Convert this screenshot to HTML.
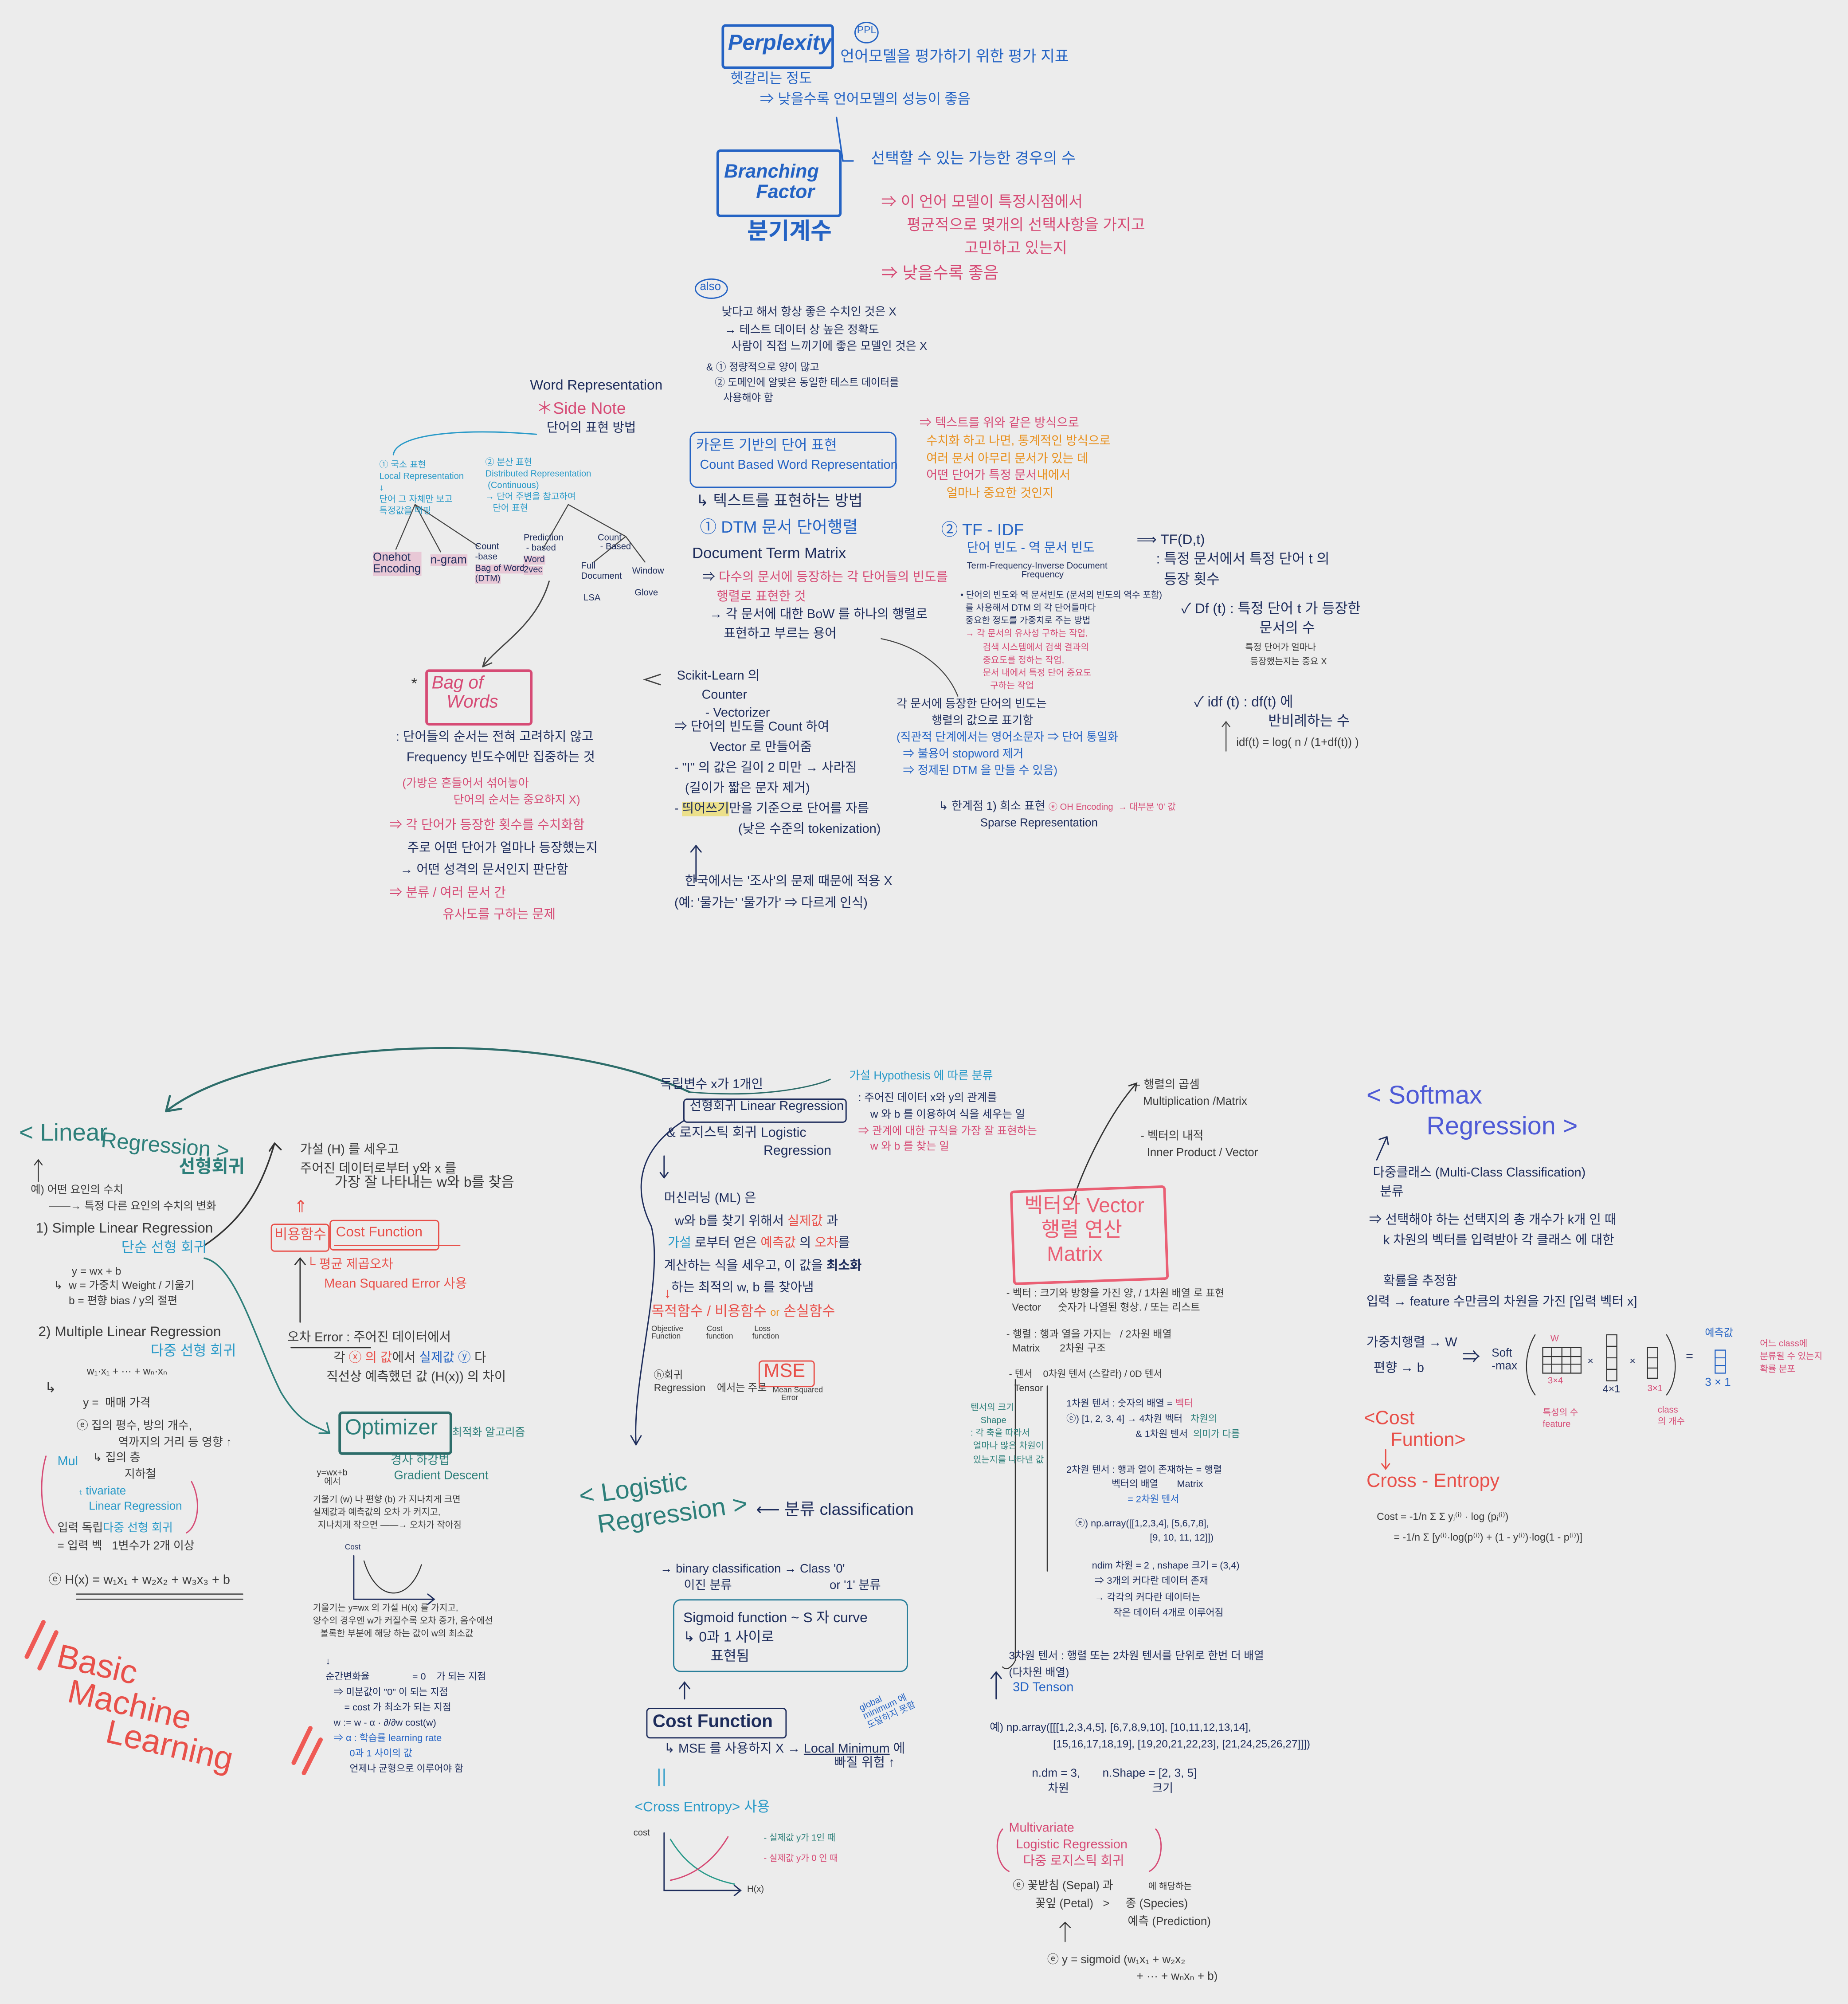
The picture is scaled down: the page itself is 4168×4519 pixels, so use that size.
<!DOCTYPE html>
<html><head><meta charset="utf-8">
<style>
html,body{margin:0;padding:0;background:#ececec;}
body{width:4168px;height:4517px;overflow:hidden;position:relative;}
#w{position:absolute;left:0;top:0;width:1447px;height:1569px;transform:scale(2.8804);transform-origin:0 0;}
.t{position:absolute;white-space:nowrap;line-height:1.05;font-family:"Liberation Sans","Noto Sans CJK KR",sans-serif;}
.bx{position:absolute;border-style:solid;border-radius:3px;}
.B{color:#2463c4}.N{color:#1e2d5c}.P{color:#d64b75}.R{color:#e8504a}.T{color:#2d7f7a}.C{color:#2a9ac8}.G{color:#3a3a3a}.V{color:#4e5ad6}.O{color:#e8901e}
svg{position:absolute;left:0;top:0}
</style></head><body><div id="w">
<svg width="1447" height="1569" viewBox="0 0 1447 1569" fill="none" stroke-linecap="round">
<path d="M655 92 L660 126 L668 126" stroke="#2463c4" stroke-width="1.2"/>
<path d="M420 340 C360 335 310 340 308 356" stroke="#2a9ac8" stroke-width="1"/>
<path d="M325 395 L310 430 M325 395 L345 432 M325 395 L375 428 M445 395 L425 430 M445 395 L490 420 M490 420 L465 440 M490 420 L505 440" stroke="#444" stroke-width="0.8"/>
<path d="M430 455 C420 490 390 505 378 522" stroke="#444" stroke-width="1"/>
<path d="M378 522 l2 -7 M378 522 l7 -3" stroke="#444" stroke-width="1"/>
<path d="M517 528 L505 532 L517 536" stroke="#444" stroke-width="1"/>
<path d="M750 545 C740 520 715 505 690 500" stroke="#444" stroke-width="0.8"/>
<path d="M545 690 L545 662 M541 667 L545 662 L549 667" stroke="#1e2d5c" stroke-width="1"/>
<path d="M960 588 L960 565 M957 569 L960 565 L963 569" stroke="#444" stroke-width="0.8"/>
<path d="M540 855 C420 800 200 815 130 870 M130 870 l3 -12 M130 870 l12 -2" stroke="#2d6d6a" stroke-width="1.6"/>
<path d="M540 855 C600 860 640 850 650 845" stroke="#2d6d6a" stroke-width="1"/>
<path d="M160 975 C190 955 205 930 215 895 M215 895 l-4 6 M215 895 l5 5" stroke="#333" stroke-width="1.2"/>
<path d="M160 985 C185 990 200 1050 220 1090 C235 1115 245 1115 258 1122 M258 1122 l-8 0 M258 1122 l-2 -8" stroke="#2d7f7a" stroke-width="1.2"/>
<path d="M235 1035 L235 985 M231 990 L235 985 L239 990" stroke="#333" stroke-width="1"/>
<path d="M228 1055 L290 1055" stroke="#333" stroke-width="1"/>
<path d="M536 877 C500 900 495 930 510 960 C520 1000 495 1080 498 1130 M494 1124 L498 1131 L502 1124" stroke="#1e2d5c" stroke-width="1"/>
<path d="M520 905 L520 922 M517 918 L520 922 L523 918" stroke="#1e2d5c" stroke-width="1"/>
<path d="M840 940 C850 910 870 870 890 848 M884 850 L890 848 L889 854" stroke="#333" stroke-width="1"/>
<path d="M795 1080 L795 1300 C795 1300 790 1310 785 1305" stroke="#333" stroke-width="0.8"/>
<path d="M820 1085 L820 1230" stroke="#333" stroke-width="0.8"/>
<path d="M536 1330 L536 1318 M532 1322 L536 1317 L540 1322" stroke="#1e2d5c" stroke-width="1"/>
<path d="M516 1385 L516 1398 M520 1385 L520 1398" stroke="#2a9ac8" stroke-width="1"/>
<path d="M277 1218 L277 1252 L340 1252 M335 1248 L340 1252 L335 1256" stroke="#1e2d5c" stroke-width="1"/>
<path d="M285 1222 C295 1255 320 1255 330 1225" stroke="#333" stroke-width="0.8"/>
<path d="M520 1435 L520 1480 L580 1480 M575 1476 L580 1480 L575 1484" stroke="#1e2d5c" stroke-width="1"/>
<path d="M525 1440 C540 1465 560 1472 575 1475" stroke="#2a9a8a" stroke-width="1"/>
<path d="M525 1472 C545 1468 560 1455 570 1438" stroke="#d64b75" stroke-width="1"/>
<path d="M1208 1055 h30 v20 h-30 z M1208 1062 h30 M1208 1068 h30 M1215 1055 v20 M1223 1055 v20 M1230 1055 v20" stroke="#333" stroke-width="0.8"/>
<path d="M1258 1045 h8 v36 h-8 z M1258 1054 h8 M1258 1063 h8 M1258 1072 h8" stroke="#333" stroke-width="0.8"/>
<path d="M1290 1055 h8 v24 h-8 z M1290 1063 h8 M1290 1071 h8" stroke="#333" stroke-width="0.8"/>
<path d="M1343 1057 h8 v18 h-8 z M1343 1063 h8 M1343 1069 h8" stroke="#2463c4" stroke-width="0.8"/>
<path d="M1202 1045 C1193 1060 1193 1080 1202 1092 M1305 1045 C1314 1060 1314 1080 1305 1092" stroke="#333" stroke-width="0.8"/>
<path d="M1078 908 L1086 890 M1080 892 L1086 890 L1087 896" stroke="#1e2d5c" stroke-width="1"/>
<path d="M1085 1135 L1085 1150 M1082 1146 L1085 1150 L1088 1146" stroke="#e8504a" stroke-width="1"/>
<path d="M785 1432 C778 1440 780 1460 790 1465 M905 1432 C912 1440 910 1460 900 1465" stroke="#d64b75" stroke-width="1"/>
<path d="M36 1140 C30 1160 32 1190 42 1200 M150 1160 C158 1175 155 1195 146 1200" stroke="#d64b75" stroke-width="1"/>
<path d="M834 1505 L834 1520 M830 1509 L834 1505 L838 1509" stroke="#333" stroke-width="0.8"/>
<path d="M780 1330 L780 1310 M776 1314 L780 1309 L784 1314" stroke="#1e2d5c" stroke-width="1"/>
<path d="M30 908 L30 925 M27 912 L30 908 L33 912" stroke="#333" stroke-width="0.8"/>
<path d="M21 1297 L34 1270 M31 1306 L44 1278 M230 1380 L243 1353 M238 1388 L251 1362" stroke="#ef5a55" stroke-width="3.5"/>
<path d="M60 1248 L190 1248 M60 1252 L190 1252" stroke="#555" stroke-width="1"/>
<path d="M262 975 L360 975" stroke="#e8504a" stroke-width="1"/>
</svg>

<div class="bx" style="left:565px;top:19px;width:84px;height:31px;border-width:2px;border-color:#2463c4"></div>
<div class="t B" style="left:570px;top:25px;font-size:17px;font-weight:bold;font-style:italic">Perplexity</div>
<div class="bx" style="left:669px;top:17px;width:17px;height:15px;border-width:1px;border-color:#2463c4;border-radius:50%"></div>
<div class="t B" style="left:671px;top:20px;font-size:8px">PPL</div>
<div class="t B" style="left:658px;top:38px;font-size:12px">언어모델을 평가하기 위한 평가 지표</div>
<div class="t B" style="left:572px;top:57px;font-size:11px">헷갈리는 정도</div>
<div class="t B" style="left:595px;top:73px;font-size:11px">⇒ 낮을수록 언어모델의 성능이 좋음</div>
<div class="bx" style="left:561px;top:117px;width:94px;height:49px;border-width:2px;border-color:#2463c4"></div>
<div class="t B" style="left:567px;top:127px;font-size:15px;font-weight:bold;font-style:italic">Branching<br>&nbsp;&nbsp;&nbsp;&nbsp;&nbsp;&nbsp;Factor</div>
<div class="t B" style="left:585px;top:172px;font-size:18px;font-weight:bold">분기계수</div>
<div class="t B" style="left:682px;top:118px;font-size:12px">선택할 수 있는 가능한 경우의 수</div>
<div class="t P" style="left:690px;top:152px;font-size:12px">⇒ 이 언어 모델이 특정시점에서</div>
<div class="t P" style="left:710px;top:170px;font-size:12px">평균적으로 몇개의 선택사항을 가지고</div>
<div class="t P" style="left:755px;top:188px;font-size:12px">고민하고 있는지</div>
<div class="t P" style="left:690px;top:207px;font-size:13px">⇒ 낮을수록 좋음</div>
<div class="bx" style="left:544px;top:218px;width:24px;height:14px;border-width:1px;border-color:#2463c4;border-radius:50%"></div>
<div class="t B" style="left:548px;top:220px;font-size:9px">also</div>
<div class="t N" style="left:565px;top:238px;font-size:9px;line-height:1.5">낮다고 해서 항상 좋은 수치인 것은 X<br>&nbsp;→ 테스트 데이터 상 높은 정확도<br>&nbsp;&nbsp;&nbsp;사람이 직접 느끼기에 좋은 모델인 것은 X</div>
<div class="t N" style="left:553px;top:282px;font-size:8px;line-height:1.5">&amp; ① 정량적으로 양이 많고<br>&nbsp;&nbsp;&nbsp;② 도메인에 알맞은 동일한 테스트 데이터를<br>&nbsp;&nbsp;&nbsp;&nbsp;&nbsp;&nbsp;사용해야 함</div>

<div class="t N" style="left:415px;top:297px;font-size:11px">Word Representation</div>
<div class="t P" style="left:420px;top:313px;font-size:13px">＊Side Note</div>
<div class="t N" style="left:428px;top:331px;font-size:10px">단어의 표현 방법</div>
<div class="t C" style="left:297px;top:360px;font-size:7px;line-height:1.3">① 국소 표현<br>Local Representation<br>↓<br>단어 그 자체만 보고<br>특정값을 매핑</div>
<div class="t C" style="left:380px;top:358px;font-size:7px;line-height:1.3">② 분산 표현<br>Distributed Representation<br>&nbsp;(Continuous)<br>→ 단어 주변을 참고하여<br>&nbsp;&nbsp;&nbsp;단어 표현</div>
<div class="t N" style="left:292px;top:432px;font-size:9px;background:#e8c8d6">Onehot<br>Encoding</div>
<div class="t N" style="left:337px;top:434px;font-size:9px;background:#e8c8d6">n-gram</div>
<div class="t N" style="left:372px;top:425px;font-size:7px;line-height:1.2">Count<br>-base<br><span style="background:#e8c8d6">Bag of Words<br>(DTM)</span></div>
<div class="t N" style="left:410px;top:418px;font-size:7px;line-height:1.2">Prediction<br>&nbsp;- based<br><span style="background:#e8c8d6">Word<br>2vec</span></div>
<div class="t N" style="left:455px;top:440px;font-size:7px;line-height:1.2">Full<br>Document<br><br>&nbsp;LSA</div>
<div class="t N" style="left:468px;top:418px;font-size:7px">Count<br>&nbsp;- Based</div>
<div class="t N" style="left:495px;top:444px;font-size:7px;line-height:1.2">Window<br><br>&nbsp;Glove</div>

<div class="bx" style="left:540px;top:338px;width:160px;height:42px;border-width:1.5px;border-color:#2463c4;border-radius:6px"></div>
<div class="t B" style="left:545px;top:344px;font-size:11px">카운트 기반의 단어 표현</div>
<div class="t B" style="left:548px;top:360px;font-size:10px">Count Based Word Representation</div>
<div class="t N" style="left:545px;top:386px;font-size:12px">↳ 텍스트를 표현하는 방법</div>
<div class="t B" style="left:548px;top:406px;font-size:13px">① DTM 문서 단어행렬</div>
<div class="t N" style="left:542px;top:427px;font-size:12px">Document Term Matrix</div>
<div class="t N" style="left:550px;top:446px;font-size:10px;line-height:1.45">⇒ <span class="P">다수의 문서에 등장하는 각 단어들의 빈도를<br>&nbsp;&nbsp;&nbsp;&nbsp;행렬로 표현한 것</span><br>&nbsp;&nbsp;→ 각 문서에 대한 BoW 를 하나의 행렬로<br>&nbsp;&nbsp;&nbsp;&nbsp;&nbsp;&nbsp;표현하고 부르는 용어</div>

<div class="t O" style="left:720px;top:325px;font-size:9.5px;line-height:1.45"><span class="P">⇒ 텍스트를 위와 같은 방식으로</span><br>&nbsp;&nbsp;수치화 하고 나면, 통계적인 방식으로<br>&nbsp;&nbsp;여러 문서 아무리 문서가 있는 데<br>&nbsp;&nbsp;<span class="P">어떤 단어가 특정 문서</span>내에서<br>&nbsp;&nbsp;&nbsp;&nbsp;&nbsp;&nbsp;&nbsp;&nbsp;얼마나 중요한 것인지</div>
<div class="t B" style="left:737px;top:408px;font-size:13px">② TF - IDF</div>
<div class="t B" style="left:757px;top:425px;font-size:10px">단어 빈도 - 역 문서 빈도</div>
<div class="t N" style="left:757px;top:440px;font-size:7px">Term-Frequency-Inverse Document<br>&nbsp;&nbsp;&nbsp;&nbsp;&nbsp;&nbsp;&nbsp;&nbsp;&nbsp;&nbsp;&nbsp;&nbsp;&nbsp;&nbsp;&nbsp;&nbsp;&nbsp;&nbsp;&nbsp;&nbsp;&nbsp;&nbsp;Frequency</div>
<div class="t N" style="left:752px;top:462px;font-size:7px;line-height:1.45">• 단어의 빈도와 역 문서빈도 (문서의 빈도의 역수 포함)<br>&nbsp;&nbsp;를 사용해서 DTM 의 각 단어들마다<br>&nbsp;&nbsp;중요한 정도를 가중치로 주는 방법<br>&nbsp;&nbsp;<span class="P">→ 각 문서의 유사성 구하는 작업,<br>&nbsp;&nbsp;&nbsp;&nbsp;&nbsp;&nbsp;&nbsp;&nbsp;&nbsp;검색 시스템에서 검색 결과의<br>&nbsp;&nbsp;&nbsp;&nbsp;&nbsp;&nbsp;&nbsp;&nbsp;&nbsp;중요도를 정하는 작업,<br>&nbsp;&nbsp;&nbsp;&nbsp;&nbsp;&nbsp;&nbsp;&nbsp;&nbsp;문서 내에서 특정 단어 중요도<br>&nbsp;&nbsp;&nbsp;&nbsp;&nbsp;&nbsp;&nbsp;&nbsp;&nbsp;&nbsp;&nbsp;&nbsp;구하는 작업</span></div>
<div class="t N" style="left:890px;top:416px;font-size:11px;line-height:1.4">⟹ TF(D,t)<br>&nbsp;&nbsp;&nbsp;&nbsp;&nbsp;: 특정 문서에서 특정 단어 t 의<br>&nbsp;&nbsp;&nbsp;&nbsp;&nbsp;&nbsp;&nbsp;등장 횟수</div>
<div class="t N" style="left:925px;top:470px;font-size:11px;line-height:1.4">✓ Df (t) : 특정 단어 t 가 등장한<br>&nbsp;&nbsp;&nbsp;&nbsp;&nbsp;&nbsp;&nbsp;&nbsp;&nbsp;&nbsp;&nbsp;&nbsp;&nbsp;&nbsp;&nbsp;&nbsp;&nbsp;&nbsp;&nbsp;&nbsp;문서의 수</div>
<div class="t G" style="left:975px;top:503px;font-size:7px;line-height:1.5">특정 단어가 얼마나<br>&nbsp;&nbsp;등장했는지는 중요 X</div>
<div class="t N" style="left:935px;top:543px;font-size:11px;line-height:1.4">✓ idf (t) : df(t) 에<br>&nbsp;&nbsp;&nbsp;&nbsp;&nbsp;&nbsp;&nbsp;&nbsp;&nbsp;&nbsp;&nbsp;&nbsp;&nbsp;&nbsp;&nbsp;&nbsp;&nbsp;&nbsp;&nbsp;반비례하는 수</div>
<div class="t G" style="left:968px;top:577px;font-size:9px">idf(t) = log( n / (1+df(t)) )</div>

<div class="bx" style="left:333px;top:524px;width:80px;height:40px;border-width:2px;border-color:#d64b75"></div>
<div class="t P" style="left:338px;top:527px;font-size:14px;font-style:italic;line-height:1.1">Bag of<br>&nbsp;&nbsp;&nbsp;Words</div>
<div class="t G" style="left:322px;top:529px;font-size:12px">*</div>
<div class="t N" style="left:310px;top:570px;font-size:10px;line-height:1.55">: 단어들의 순서는 전혀 고려하지 않고<br>&nbsp;&nbsp;&nbsp;Frequency 빈도수에만 집중하는 것</div>
<div class="t P" style="left:315px;top:607px;font-size:9px;line-height:1.4">(가방은 흔들어서 섞어놓아<br>&nbsp;&nbsp;&nbsp;&nbsp;&nbsp;&nbsp;&nbsp;&nbsp;&nbsp;&nbsp;&nbsp;&nbsp;&nbsp;&nbsp;&nbsp;&nbsp;단어의 순서는 중요하지 X)</div>
<div class="t N" style="left:305px;top:638px;font-size:10px;line-height:1.75"><span class="P">⇒ 각 단어가 등장한 횟수를 수치화함</span><br>&nbsp;&nbsp;&nbsp;&nbsp;&nbsp;주로 어떤 단어가 얼마나 등장했는지<br>&nbsp;&nbsp;&nbsp;→ 어떤 성격의 문서인지 판단함<br><span class="P">⇒ 분류 / 여러 문서 간<br>&nbsp;&nbsp;&nbsp;&nbsp;&nbsp;&nbsp;&nbsp;&nbsp;&nbsp;&nbsp;&nbsp;&nbsp;&nbsp;&nbsp;&nbsp;유사도를 구하는 문제</span></div>

<div class="t N" style="left:530px;top:523px;font-size:10px;line-height:1.45">Scikit-Learn 의<br>&nbsp;&nbsp;&nbsp;&nbsp;&nbsp;&nbsp;&nbsp;Counter<br>&nbsp;&nbsp;&nbsp;&nbsp;&nbsp;&nbsp;&nbsp;&nbsp;- Vectorizer</div>
<div class="t N" style="left:528px;top:562px;font-size:10px;line-height:1.6">⇒ 단어의 빈도를 Count 하여<br>&nbsp;&nbsp;&nbsp;&nbsp;&nbsp;&nbsp;&nbsp;&nbsp;&nbsp;&nbsp;Vector 로 만들어줌<br>- "I" 의 값은 길이 2 미만 → 사라짐<br>&nbsp;&nbsp;&nbsp;(길이가 짧은 문자 제거)<br>- <span style="background:#ece08a">띄어쓰기</span>만을 기준으로 단어를 자름<br>&nbsp;&nbsp;&nbsp;&nbsp;&nbsp;&nbsp;&nbsp;&nbsp;&nbsp;&nbsp;&nbsp;&nbsp;&nbsp;&nbsp;&nbsp;&nbsp;&nbsp;&nbsp;(낮은 수준의 tokenization)</div>
<div class="t N" style="left:528px;top:682px;font-size:10px;line-height:1.7">&nbsp;&nbsp;&nbsp;한국에서는 '조사'의 문제 때문에 적용 X<br>(예: '물가는' '물가가' ⇒ 다르게 인식)</div>
<div class="t N" style="left:702px;top:545px;font-size:9px;line-height:1.45">각 문서에 등장한 단어의 빈도는<br>&nbsp;&nbsp;&nbsp;&nbsp;&nbsp;&nbsp;&nbsp;&nbsp;&nbsp;&nbsp;&nbsp;행렬의 값으로 표기함<br><span class="B">(직관적 단계에서는 영어소문자 ⇒ 단어 통일화<br>&nbsp;&nbsp;⇒ 불용어 stopword 제거<br>&nbsp;&nbsp;⇒ 정제된 DTM 을 만들 수 있음)</span></div>
<div class="t N" style="left:735px;top:625px;font-size:9px;line-height:1.4">↳ 한계점 1) 희소 표현 <span class="P" style="font-size:7px">ⓔ OH Encoding &nbsp;→ 대부분 '0' 값</span><br>&nbsp;&nbsp;&nbsp;&nbsp;&nbsp;&nbsp;&nbsp;&nbsp;&nbsp;&nbsp;&nbsp;&nbsp;&nbsp;Sparse Representation</div>

<!-- BOTTOM LEFT -->
<div class="t T" style="left:15px;top:878px;font-size:19px">&lt; Linear</div>
<div class="t T" style="left:80px;top:884px;font-size:17px;transform:rotate(5deg);transform-origin:0 0">Regression &gt;</div>
<div class="t T" style="left:140px;top:906px;font-size:14px;font-weight:bold">선형회귀</div>
<div class="t G" style="left:24px;top:925px;font-size:8.5px;line-height:1.5">예) 어떤 요인의 수치<br>&nbsp;&nbsp;&nbsp;&nbsp;&nbsp;&nbsp;——→ 특정 다른 요인의 수치의 변화</div>
<div class="t G" style="left:28px;top:957px;font-size:11px">1) Simple Linear Regression</div>
<div class="t C" style="left:95px;top:972px;font-size:11px">단순 선형 회귀</div>
<div class="t G" style="left:42px;top:990px;font-size:8.5px;line-height:1.35">&nbsp;&nbsp;&nbsp;&nbsp;&nbsp;&nbsp;y = wx + b<br>↳ &nbsp;w = 가중치 Weight / 기울기<br>&nbsp;&nbsp;&nbsp;&nbsp;&nbsp;b = 편향 bias / y의 절편</div>
<div class="t G" style="left:30px;top:1038px;font-size:11px">2) Multiple Linear Regression</div>
<div class="t C" style="left:118px;top:1053px;font-size:11px">다중 선형 회귀</div>
<div class="t G" style="left:68px;top:1070px;font-size:8px">w₁·x₁ + ··· + wₙ·xₙ</div>
<div class="t G" style="left:35px;top:1082px;font-size:11px">↳</div>
<div class="t G" style="left:65px;top:1092px;font-size:9px;line-height:1.5">y = &nbsp;매매 가격</div>
<div class="t G" style="left:60px;top:1110px;font-size:9px;line-height:1.4">ⓔ 집의 평수, 방의 개수,<br>&nbsp;&nbsp;&nbsp;&nbsp;&nbsp;&nbsp;&nbsp;&nbsp;&nbsp;&nbsp;&nbsp;&nbsp;&nbsp;역까지의 거리 등 영향 ↑<br>&nbsp;&nbsp;&nbsp;&nbsp;&nbsp;↳ 집의 층<br>&nbsp;&nbsp;&nbsp;&nbsp;&nbsp;&nbsp;&nbsp;&nbsp;&nbsp;&nbsp;&nbsp;&nbsp;&nbsp;&nbsp;&nbsp;지하철</div>
<div class="t C" style="left:45px;top:1140px;font-size:10px">Mul</div>
<div class="t C" style="left:62px;top:1162px;font-size:9px;line-height:1.3">ₜ tivariate<br>&nbsp;&nbsp;&nbsp;Linear Regression</div>
<div class="t G" style="left:45px;top:1190px;font-size:9px;line-height:1.55">입력 독립<span class="C">다중 선형 회귀</span><br>= 입력 벡 &nbsp;&nbsp;1변수가 2개 이상</div>
<div class="t G" style="left:38px;top:1233px;font-size:10px">ⓔ H(x) = w₁x₁ + w₂x₂ + w₃x₃ + b</div>
<div class="t R" style="left:48px;top:1284px;font-size:26px;transform:rotate(13deg);transform-origin:0 0;line-height:0.95">Basic<br>&nbsp;&nbsp;Machine<br>&nbsp;&nbsp;&nbsp;&nbsp;&nbsp;&nbsp;&nbsp;Learning</div>

<div class="t G" style="left:235px;top:893px;font-size:10px;line-height:1.5">가설 (H) 를 세우고<br>주어진 데이터로부터 y와 x 를</div>
<div class="t G" style="left:262px;top:921px;font-size:11px">가장 잘 나타내는 w와 b를 찾음</div>
<div class="t R" style="left:230px;top:938px;font-size:13px">⇑</div>
<div class="bx" style="left:212px;top:958px;width:44px;height:20px;border-width:1.3px;border-color:#e8504a"></div>
<div class="t R" style="left:215px;top:962px;font-size:11px">비용함수</div>
<div class="bx" style="left:258px;top:955px;width:84px;height:22px;border-width:1.3px;border-color:#e8504a"></div>
<div class="t R" style="left:263px;top:960px;font-size:11px">Cost Function</div>
<div class="t R" style="left:240px;top:983px;font-size:10px;line-height:1.5">└ 평균 제곱오차<br>&nbsp;&nbsp;&nbsp;&nbsp;&nbsp;Mean Squared Error 사용</div>
<div class="t G" style="left:225px;top:1040px;font-size:10px;line-height:1.55">오차 Error : 주어진 데이터에서<br>&nbsp;&nbsp;&nbsp;&nbsp;&nbsp;&nbsp;&nbsp;&nbsp;&nbsp;&nbsp;&nbsp;&nbsp;&nbsp;각 <span class="R">ⓧ 의 값</span>에서 <span class="B">실제값 ⓨ</span> 다<br>&nbsp;&nbsp;&nbsp;&nbsp;&nbsp;&nbsp;&nbsp;&nbsp;&nbsp;&nbsp;&nbsp;직선상 예측했던 값 (H(x)) 의 차이</div>
<div class="bx" style="left:265px;top:1105px;width:85px;height:30px;border-width:2px;border-color:#2d6d6a"></div>
<div class="t T" style="left:270px;top:1109px;font-size:17px">Optimizer</div>
<div class="t T" style="left:354px;top:1117px;font-size:8.5px">최적화 알고리즘</div>
<div class="t T" style="left:290px;top:1138px;font-size:9.5px;line-height:1.3">&nbsp;&nbsp;&nbsp;&nbsp;&nbsp;&nbsp;경사 하강법<br>&nbsp;&nbsp;&nbsp;&nbsp;&nbsp;&nbsp;&nbsp;Gradient Descent</div>
<div class="t G" style="left:248px;top:1150px;font-size:7px">y=wx+b<br>&nbsp;&nbsp;&nbsp;에서</div>
<div class="t G" style="left:245px;top:1170px;font-size:7px;line-height:1.45">기울기 (w) 나 편향 (b) 가 지나치게 크면<br>실제값과 예측값의 오차 가 커지고,<br>&nbsp;&nbsp;지나치게 작으면 ——→ 오차가 작아짐</div>
<div class="t N" style="left:270px;top:1209px;font-size:6px">Cost</div>
<div class="t G" style="left:245px;top:1255px;font-size:7px;line-height:1.45">기울기는 y=wx 의 가설 H(x) 를 가지고,<br>양수의 경우엔 w가 커질수록 오차 증가, 음수에선<br>&nbsp;&nbsp;&nbsp;볼록한 부분에 해당 하는 값이 w의 최소값</div>
<div class="t N" style="left:255px;top:1295px;font-size:7.5px;line-height:1.6">↓<br>순간변화율 &nbsp;&nbsp;&nbsp;&nbsp;&nbsp;&nbsp;&nbsp;&nbsp;&nbsp;&nbsp;&nbsp;&nbsp;&nbsp;&nbsp;&nbsp;= 0 &nbsp;&nbsp;&nbsp;가 되는 지점<br>&nbsp;&nbsp;&nbsp;⇒ 미분값이 "0" 이 되는 지점<br>&nbsp;&nbsp;&nbsp;&nbsp;&nbsp;&nbsp;&nbsp;= cost 가 최소가 되는 지점<br>&nbsp;&nbsp;&nbsp;w := w - α · ∂/∂w cost(w)<br><span class="B">&nbsp;&nbsp;&nbsp;⇒ α : 학습률 learning rate<br>&nbsp;&nbsp;&nbsp;&nbsp;&nbsp;&nbsp;&nbsp;&nbsp;&nbsp;0과 1 사이의 값</span><br>&nbsp;&nbsp;&nbsp;&nbsp;&nbsp;&nbsp;&nbsp;&nbsp;&nbsp;언제나 균형으로 이루어야 함</div>

<!-- BOTTOM CENTER -->
<div class="t N" style="left:517px;top:845px;font-size:10px">독립변수 x가 1개인</div>
<div class="bx" style="left:535px;top:860px;width:126px;height:17px;border-width:1.2px;border-color:#1e2d5c"></div>
<div class="t N" style="left:540px;top:862px;font-size:10px">선형회귀 Linear Regression</div>
<div class="t N" style="left:522px;top:880px;font-size:10.5px;line-height:1.35">&amp; 로지스틱 회귀 Logistic<br>&nbsp;&nbsp;&nbsp;&nbsp;&nbsp;&nbsp;&nbsp;&nbsp;&nbsp;&nbsp;&nbsp;&nbsp;&nbsp;&nbsp;&nbsp;&nbsp;&nbsp;&nbsp;&nbsp;&nbsp;&nbsp;&nbsp;&nbsp;&nbsp;&nbsp;&nbsp;Regression</div>
<div class="t C" style="left:665px;top:838px;font-size:9px">가설 Hypothesis 에 따른 분류</div>
<div class="t N" style="left:672px;top:853px;font-size:8.5px;line-height:1.5">: 주어진 데이터 x와 y의 관계를<br>&nbsp;&nbsp;&nbsp;&nbsp;w 와 b 를 이용하여 식을 세우는 일<br><span class="P">⇒ 관계에 대한 규칙을 가장 잘 표현하는<br>&nbsp;&nbsp;&nbsp;&nbsp;w 와 b 를 찾는 일</span></div>
<div class="t N" style="left:520px;top:930px;font-size:10px;line-height:1.75">머신러닝 (ML) 은<br>&nbsp;&nbsp;&nbsp;w와 b를 찾기 위해서 <span class="R">실제값</span> 과<br>&nbsp;<span class="C">가설</span> 로부터 얻은 <span class="R">예측값</span> 의 <span class="R">오차</span>를<br>계산하는 식을 세우고, 이 값을 <b>최소화</b><br>&nbsp;&nbsp;하는 최적의 w, b 를 찾아냄</div>
<div class="t R" style="left:520px;top:1008px;font-size:11px">↓</div>
<div class="t R" style="left:510px;top:1022px;font-size:11px">목적함수 / 비용함수 <span class="O" style="font-size:8px">or</span> 손실함수</div>
<div class="t G" style="left:510px;top:1038px;font-size:6px">Objective &nbsp;&nbsp;&nbsp;&nbsp;&nbsp;&nbsp;&nbsp;&nbsp;&nbsp;&nbsp;Cost &nbsp;&nbsp;&nbsp;&nbsp;&nbsp;&nbsp;&nbsp;&nbsp;&nbsp;&nbsp;&nbsp;&nbsp;&nbsp;&nbsp;Loss<br>Function &nbsp;&nbsp;&nbsp;&nbsp;&nbsp;&nbsp;&nbsp;&nbsp;&nbsp;&nbsp;&nbsp;function &nbsp;&nbsp;&nbsp;&nbsp;&nbsp;&nbsp;&nbsp;&nbsp;function</div>
<div class="t G" style="left:512px;top:1072px;font-size:8px;line-height:1.3">ⓗ회귀<br>Regression &nbsp;&nbsp;&nbsp;에서는 주로</div>
<div class="bx" style="left:594px;top:1065px;width:42px;height:19px;border-width:1.2px;border-color:#e8504a"></div>
<div class="t R" style="left:598px;top:1066px;font-size:15px">MSE</div>
<div class="t G" style="left:605px;top:1086px;font-size:6px">Mean Squared<br>&nbsp;&nbsp;&nbsp;&nbsp;Error</div>
<div class="t T" style="left:452px;top:1160px;font-size:20px;transform:rotate(-8deg);transform-origin:0 0;line-height:1.2">&lt; Logistic<br>&nbsp;&nbsp;Regression &gt;</div>
<div class="t N" style="left:592px;top:1175px;font-size:13px">⟵ 분류 classification</div>
<div class="t N" style="left:517px;top:1222px;font-size:9.5px;line-height:1.4">→ binary classification → Class '0'<br>&nbsp;&nbsp;&nbsp;&nbsp;&nbsp;&nbsp;&nbsp;이진 분류 &nbsp;&nbsp;&nbsp;&nbsp;&nbsp;&nbsp;&nbsp;&nbsp;&nbsp;&nbsp;&nbsp;&nbsp;&nbsp;&nbsp;&nbsp;&nbsp;&nbsp;&nbsp;&nbsp;&nbsp;&nbsp;&nbsp;&nbsp;&nbsp;&nbsp;&nbsp;&nbsp;&nbsp;or '1' 분류</div>
<div class="bx" style="left:527px;top:1252px;width:182px;height:55px;border-width:1.3px;border-color:#2a7f9a;border-radius:6px"></div>
<div class="t N" style="left:535px;top:1260px;font-size:11px;line-height:1.35">Sigmoid function ~ S 자 curve<br>↳ 0과 1 사이로<br>&nbsp;&nbsp;&nbsp;&nbsp;&nbsp;&nbsp;&nbsp;표현됨</div>
<div class="bx" style="left:506px;top:1337px;width:108px;height:22px;border-width:1.8px;border-color:#1e2d5c"></div>
<div class="t N" style="left:511px;top:1340px;font-size:14px;font-weight:bold">Cost Function</div>
<div class="t N" style="left:520px;top:1365px;font-size:10px">↳ MSE 를 사용하지 X → <u>Local Minimum</u> 에<br>&nbsp;&nbsp;&nbsp;&nbsp;&nbsp;&nbsp;&nbsp;&nbsp;&nbsp;&nbsp;&nbsp;&nbsp;&nbsp;&nbsp;&nbsp;&nbsp;&nbsp;&nbsp;&nbsp;&nbsp;&nbsp;&nbsp;&nbsp;&nbsp;&nbsp;&nbsp;&nbsp;&nbsp;&nbsp;&nbsp;&nbsp;&nbsp;&nbsp;&nbsp;&nbsp;&nbsp;&nbsp;&nbsp;&nbsp;&nbsp;&nbsp;&nbsp;&nbsp;&nbsp;&nbsp;&nbsp;&nbsp;&nbsp;빠질 위험 ↑</div>
<div class="t B" style="left:672px;top:1335px;font-size:7px;transform:rotate(-25deg);transform-origin:0 0">global<br>minimum 에<br>도달하지 못함</div>
<div class="t C" style="left:497px;top:1410px;font-size:11px">&lt;Cross Entropy&gt; 사용</div>
<div class="t G" style="left:496px;top:1432px;font-size:7px">cost</div>
<div class="t T" style="left:598px;top:1436px;font-size:7px">- 실제값 y가 1인 때</div>
<div class="t P" style="left:598px;top:1452px;font-size:7px">- 실제값 y가 0 인 때</div>
<div class="t G" style="left:585px;top:1476px;font-size:7px">H(x)</div>

<!-- CENTER RIGHT -->
<div class="t G" style="left:890px;top:843px;font-size:9px;line-height:1.4">- 행렬의 곱셈<br>&nbsp;&nbsp;Multiplication /Matrix</div>
<div class="t G" style="left:893px;top:883px;font-size:9px;line-height:1.4">- 벡터의 내적<br>&nbsp;&nbsp;Inner Product / Vector</div>
<div class="bx" style="left:792px;top:930px;width:118px;height:70px;border-width:2px;border-color:#ea5f74;transform:rotate(-2deg)"></div>
<div class="t P" style="left:802px;top:935px;font-size:16px;line-height:1.2;color:#ea5f74">벡터와 Vector<br>&nbsp;&nbsp;&nbsp;행렬 연산<br>&nbsp;&nbsp;&nbsp;&nbsp;Matrix</div>
<div class="t G" style="left:788px;top:1008px;font-size:8px;line-height:1.35">- 벡터 : 크기와 방향을 가진 양, / 1차원 배열 로 표현<br>&nbsp;&nbsp;Vector &nbsp;&nbsp;&nbsp;&nbsp;&nbsp;숫자가 나열된 형상. / 또는 리스트</div>
<div class="t G" style="left:788px;top:1040px;font-size:8px;line-height:1.35">- 행렬 : 행과 열을 가지는 &nbsp;&nbsp;/ 2차원 배열<br>&nbsp;&nbsp;Matrix &nbsp;&nbsp;&nbsp;&nbsp;&nbsp;&nbsp;2차원 구조</div>
<div class="t G" style="left:790px;top:1070px;font-size:7.5px;line-height:1.5">- 텐서 &nbsp;&nbsp;&nbsp;0차원 텐서 (스칼라) / 0D 텐서<br>&nbsp;&nbsp;Tensor</div>
<div class="t N" style="left:835px;top:1093px;font-size:7.5px;line-height:1.6">1차원 텐서 : 숫자의 배열 = <span class="P">벡터</span><br>ⓔ) [1, 2, 3, 4] → 4차원 벡터 &nbsp;&nbsp;<span class="T">차원의</span><br>&nbsp;&nbsp;&nbsp;&nbsp;&nbsp;&nbsp;&nbsp;&nbsp;&nbsp;&nbsp;&nbsp;&nbsp;&nbsp;&nbsp;&nbsp;&nbsp;&nbsp;&nbsp;&nbsp;&nbsp;&nbsp;&nbsp;&nbsp;&nbsp;&nbsp;&nbsp;&amp; 1차원 텐서 &nbsp;<span class="T">의미가 다름</span></div>
<div class="t T" style="left:760px;top:1098px;font-size:7px;line-height:1.45">텐서의 크기<br>&nbsp;&nbsp;&nbsp;&nbsp;Shape<br>: 각 축을 따라서<br>&nbsp;얼마나 많은 차원이<br>&nbsp;있는지를 나타낸 값</div>
<div class="t N" style="left:835px;top:1145px;font-size:7.5px;line-height:1.5">2차원 텐서 : 행과 열이 존재하는 = 행렬<br>&nbsp;&nbsp;&nbsp;&nbsp;&nbsp;&nbsp;&nbsp;&nbsp;&nbsp;&nbsp;&nbsp;&nbsp;&nbsp;&nbsp;&nbsp;&nbsp;&nbsp;벡터의 배열 &nbsp;&nbsp;&nbsp;&nbsp;&nbsp;&nbsp;Matrix<br>&nbsp;&nbsp;&nbsp;&nbsp;&nbsp;&nbsp;&nbsp;&nbsp;&nbsp;&nbsp;&nbsp;&nbsp;&nbsp;&nbsp;&nbsp;&nbsp;&nbsp;&nbsp;&nbsp;&nbsp;&nbsp;&nbsp;&nbsp;<span class="B">= 2차원 텐서</span></div>
<div class="t N" style="left:842px;top:1187px;font-size:7.5px;line-height:1.5">ⓔ) np.array([[1,2,3,4], [5,6,7,8],<br>&nbsp;&nbsp;&nbsp;&nbsp;&nbsp;&nbsp;&nbsp;&nbsp;&nbsp;&nbsp;&nbsp;&nbsp;&nbsp;&nbsp;&nbsp;&nbsp;&nbsp;&nbsp;&nbsp;&nbsp;&nbsp;&nbsp;&nbsp;&nbsp;&nbsp;&nbsp;&nbsp;&nbsp;[9, 10, 11, 12]])</div>
<div class="t N" style="left:855px;top:1220px;font-size:7.5px;line-height:1.65">ndim 차원 = 2 , nshape 크기 = (3,4)<br>&nbsp;⇒ 3개의 커다란 데이터 존재<br>&nbsp;→ 각각의 커다란 데이터는<br>&nbsp;&nbsp;&nbsp;&nbsp;&nbsp;&nbsp;&nbsp;&nbsp;작은 데이터 4개로 이루어짐</div>
<div class="t N" style="left:790px;top:1290px;font-size:8.5px;line-height:1.5">3차원 텐서 : 행렬 또는 2차원 텐서를 단위로 한번 더 배열<br>(다차원 배열)</div>
<div class="t B" style="left:793px;top:1317px;font-size:10px">3D Tenson</div>
<div class="t N" style="left:775px;top:1346px;font-size:8.5px;line-height:1.55">예) np.array([[[1,2,3,4,5], [6,7,8,9,10], [10,11,12,13,14],<br>&nbsp;&nbsp;&nbsp;&nbsp;&nbsp;&nbsp;&nbsp;&nbsp;&nbsp;&nbsp;&nbsp;&nbsp;&nbsp;&nbsp;&nbsp;&nbsp;&nbsp;&nbsp;&nbsp;&nbsp;&nbsp;[15,16,17,18,19], [19,20,21,22,23], [21,24,25,26,27]]])</div>
<div class="t N" style="left:808px;top:1383px;font-size:9px;line-height:1.3">n.dm = 3, &nbsp;&nbsp;&nbsp;&nbsp;&nbsp;&nbsp;n.Shape = [2, 3, 5]<br>&nbsp;&nbsp;&nbsp;&nbsp;&nbsp;차원 &nbsp;&nbsp;&nbsp;&nbsp;&nbsp;&nbsp;&nbsp;&nbsp;&nbsp;&nbsp;&nbsp;&nbsp;&nbsp;&nbsp;&nbsp;&nbsp;&nbsp;&nbsp;&nbsp;&nbsp;&nbsp;&nbsp;&nbsp;&nbsp;&nbsp;크기</div>
<div class="t P" style="left:790px;top:1425px;font-size:10px;line-height:1.3">Multivariate<br>&nbsp;&nbsp;Logistic Regression<br>&nbsp;&nbsp;&nbsp;&nbsp;다중 로지스틱 회귀</div>
<div class="t G" style="left:793px;top:1470px;font-size:9px;line-height:1.55">ⓔ 꽃받침 (Sepal) 과 &nbsp;&nbsp;&nbsp;&nbsp;&nbsp;&nbsp;&nbsp;&nbsp;&nbsp;&nbsp;<span style="font-size:7px">에 해당하는</span><br>&nbsp;&nbsp;&nbsp;&nbsp;&nbsp;&nbsp;&nbsp;꽃잎 (Petal) &nbsp;&nbsp;&gt; &nbsp;&nbsp;&nbsp;&nbsp;종 (Species)<br>&nbsp;&nbsp;&nbsp;&nbsp;&nbsp;&nbsp;&nbsp;&nbsp;&nbsp;&nbsp;&nbsp;&nbsp;&nbsp;&nbsp;&nbsp;&nbsp;&nbsp;&nbsp;&nbsp;&nbsp;&nbsp;&nbsp;&nbsp;&nbsp;&nbsp;&nbsp;&nbsp;&nbsp;&nbsp;&nbsp;&nbsp;&nbsp;&nbsp;&nbsp;&nbsp;&nbsp;예측 (Prediction)</div>
<div class="t G" style="left:820px;top:1528px;font-size:9px;line-height:1.4">ⓔ y = sigmoid (w₁x₁ + w₂x₂<br>&nbsp;&nbsp;&nbsp;&nbsp;&nbsp;&nbsp;&nbsp;&nbsp;&nbsp;&nbsp;&nbsp;&nbsp;&nbsp;&nbsp;&nbsp;&nbsp;&nbsp;&nbsp;&nbsp;&nbsp;&nbsp;&nbsp;&nbsp;&nbsp;&nbsp;&nbsp;&nbsp;&nbsp;+ ··· + wₙxₙ + b)</div>

<!-- RIGHT -->
<div class="t V" style="left:1070px;top:848px;font-size:20px">&lt; Softmax</div>
<div class="t V" style="left:1117px;top:872px;font-size:20px">Regression &gt;</div>
<div class="t N" style="left:1075px;top:912px;font-size:10px;line-height:1.45">다중클래스 (Multi-Class Classification)<br>&nbsp;&nbsp;분류</div>
<div class="t N" style="left:1072px;top:948px;font-size:10px;line-height:1.6">⇒ 선택해야 하는 선택지의 총 개수가 k개 인 때<br>&nbsp;&nbsp;&nbsp;&nbsp;k 차원의 벡터를 입력받아 각 클래스 에 대한<br><br>&nbsp;&nbsp;&nbsp;&nbsp;확률을 추정함</div>
<div class="t N" style="left:1070px;top:1015px;font-size:10px">입력 → feature 수만큼의 차원을 가진 [입력 벡터 x]</div>
<div class="t N" style="left:1070px;top:1042px;font-size:10px;line-height:2">가중치행렬 → W<br>&nbsp;&nbsp;편향 → b</div>
<div class="t N" style="left:1145px;top:1055px;font-size:14px">⇒</div>
<div class="t N" style="left:1168px;top:1055px;font-size:9px;line-height:1.1">Soft<br>-max</div>
<div class="t N" style="left:1243px;top:1062px;font-size:8px">×</div>
<div class="t N" style="left:1276px;top:1062px;font-size:8px">×</div>
<div class="t N" style="left:1320px;top:1058px;font-size:10px">=</div>
<div class="t P" style="left:1214px;top:1045px;font-size:7px">W</div>
<div class="t P" style="left:1212px;top:1078px;font-size:7px">3×4</div>
<div class="t N" style="left:1255px;top:1084px;font-size:8px">4×1</div>
<div class="t P" style="left:1290px;top:1084px;font-size:7px">3×1</div>
<div class="t B" style="left:1335px;top:1040px;font-size:8px">예측값</div>
<div class="t B" style="left:1335px;top:1078px;font-size:9px">3 × 1</div>
<div class="t P" style="left:1378px;top:1048px;font-size:7px;line-height:1.4">어느 class에<br>분류될 수 있는지<br>확률 분포</div>
<div class="t P" style="left:1208px;top:1102px;font-size:7px;line-height:1.3">특성의 수<br>feature</div>
<div class="t P" style="left:1298px;top:1100px;font-size:7px;line-height:1.3">class<br>의 개수</div>
<div class="t R" style="left:1068px;top:1103px;font-size:15px;line-height:1.1">&lt;Cost<br>&nbsp;&nbsp;&nbsp;&nbsp;&nbsp;Funtion&gt;</div>
<div class="t R" style="left:1070px;top:1152px;font-size:15px">Cross - Entropy</div>
<div class="t G" style="left:1078px;top:1180px;font-size:8px;line-height:2">Cost = -1/n Σ Σ yⱼ⁽ⁱ⁾ · log (pⱼ⁽ⁱ⁾)<br>&nbsp;&nbsp;&nbsp;&nbsp;&nbsp;&nbsp;= -1/n Σ [y⁽ⁱ⁾·log(p⁽ⁱ⁾) + (1 - y⁽ⁱ⁾)·log(1 - p⁽ⁱ⁾)]</div>
</div></body></html>
